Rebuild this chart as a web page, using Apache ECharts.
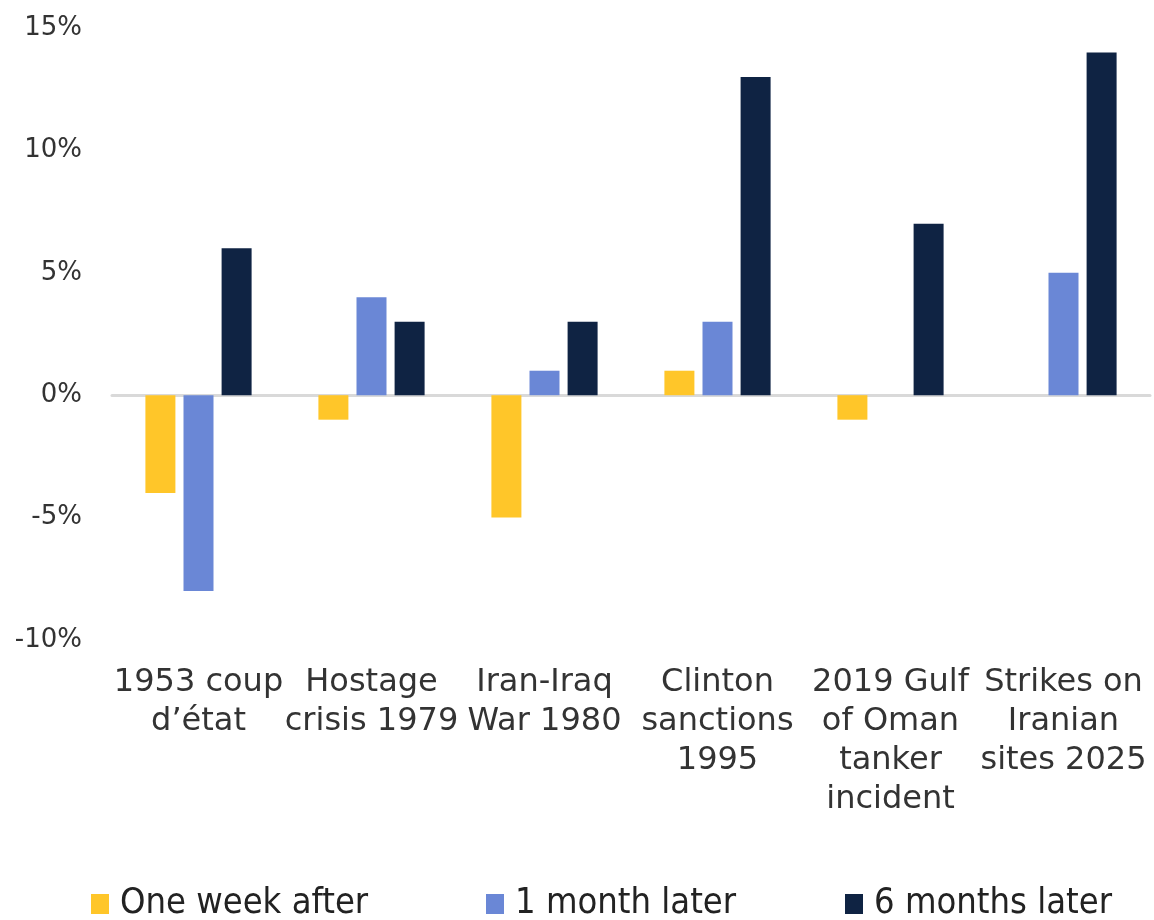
<!DOCTYPE html>
<html>
<head>
<meta charset="utf-8">
<script src="https://cdn.jsdelivr.net/npm/echarts@6/dist/echarts.min.js"></script>
<style>
html,body{margin:0;padding:0;background:#fff;}
#c{width:1154px;height:920px;}
</style>
</head>
<body>
<div id="c"></div>
<script>
const categories = [
  '1953 coup\nd\u2019état',
  'Hostage\ncrisis 1979',
  'Iran-Iraq\nWar 1980',
  'Clinton\nsanctions\n1995',
  '2019 Gulf\nof Oman\ntanker\nincident',
  'Strikes on\nIranian\nsites 2025'
];
const seriesNames = ['One week after', '1 month later', '6 months later'];
const oneWeek = [-4, -1, -5, 1, -1, 0];
const oneMonth = [-8, 4, 1, 3, 0, 5];
const sixMonths = [6, 3, 3, 13, 7, 14];
const yTicks = { min: -10, max: 15, interval: 5 };

const colors = ['#FFC629', '#6A87D6', '#0F2343'];
const legendLeft = [91, 486, 845];
const legendFont = "'DejaVu Sans Condensed', 'DejaVu Sans'";

const chart = echarts.init(document.getElementById('c'));
chart.setOption({
  animation: false,
  backgroundColor: '#ffffff',
  grid: { left: 112, right: 4, top: 28, bottom: 280 },
  legend: seriesNames.map((n, i) => ({
    top: 886,
    left: legendLeft[i],
    padding: 0,
    itemWidth: 18,
    itemHeight: 20,
    itemGap: 0,
    icon: 'rect',
    textStyle: { fontFamily: legendFont, fontSize: 36, color: '#222', padding: [0, 0, 0, 6] },
    data: [n]
  })),
  xAxis: {
    type: 'category',
    data: categories,
    axisLine: { onZero: true, lineStyle: { color: '#d9d9d9', width: 3 } },
    axisTick: { show: false },
    axisLabel: {
      interval: 0,
      margin: 23,
      fontFamily: 'DejaVu Sans',
      fontSize: 32,
      lineHeight: 39,
      color: '#333'
    }
  },
  yAxis: {
    type: 'value',
    min: yTicks.min,
    max: yTicks.max,
    interval: yTicks.interval,
    axisLine: { show: false },
    axisTick: { show: false },
    splitLine: { show: false },
    axisLabel: {
      formatter: '{value}%',
      margin: 30,
      fontFamily: 'DejaVu Sans',
      fontSize: 26,
      color: '#333'
    }
  },
  series: [
    { name: seriesNames[0], type: 'bar', data: oneWeek, itemStyle: { color: colors[0] }, barWidth: 30, barGap: '27%' },
    { name: seriesNames[1], type: 'bar', data: oneMonth, itemStyle: { color: colors[1] }, barWidth: 30, barGap: '27%' },
    { name: seriesNames[2], type: 'bar', data: sixMonths, itemStyle: { color: colors[2] }, barWidth: 30, barGap: '27%' }
  ]
});
</script>
</body>
</html>
